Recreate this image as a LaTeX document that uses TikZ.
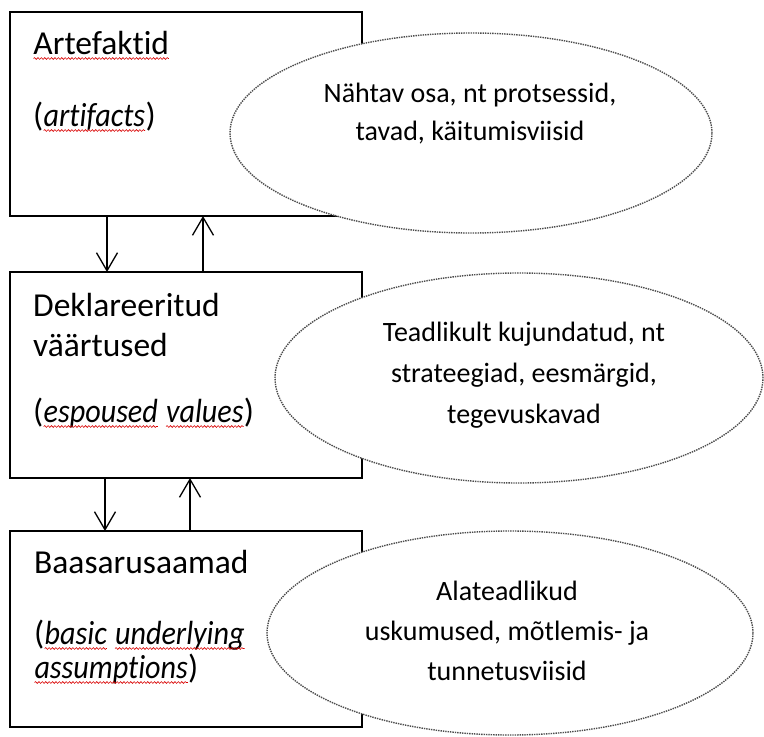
\documentclass[tikz,border=0pt]{standalone}
\usepackage{fontspec}
\setmainfont[Ligatures=NoCommon,ItalicFeatures={FakeStretch=0.9}]{Carlito}
\usetikzlibrary{arrows.meta,shapes.geometric,decorations.pathmorphing}
\newcommand\spellmark[1]{\tikz[baseline=(sw.base)]{\node[shape=rectangle,draw=none,fill=none,inner sep=0pt,outer sep=0pt,anchor=base west] (sw) at (0,0) {#1};\draw[spellline] ([yshift=-4.5pt]sw.base west) -- ([yshift=-4.5pt]sw.base east);}}
\tikzset{
  spellline/.style={draw=red!85!black, line width=0.6pt, decorate, decoration={snake, amplitude=0.9pt, segment length=3.4pt}},
  boxnode/.style={draw=black, line width=1.3pt, fill=white, inner sep=0pt, outer sep=0pt, shape=rectangle},
  ellnode/.style={ellipse, draw=black!70, fill=white, line width=1.4pt, densely dotted, inner sep=0pt, outer sep=0pt},
  boxtext/.style={anchor=base west, inner sep=0pt, font=\fontsize{33.5}{40}\selectfont},
  elltext/.style={anchor=base, inner sep=0pt, font=\fontsize{28}{40}\selectfont},
  arr/.style={draw=black, line width=1.3pt, -{Straight Barb[length=18pt,width=21pt,line width=1.3pt]}},
}
\begin{document}
\begin{tikzpicture}[x=1pt,y=-1pt]
\useasboundingbox (0,0) rectangle (764,737);
\fill[white] (0,0) rectangle (764,737);

% boxes
\node[boxnode, minimum width=352pt, minimum height=204pt] (box1) at (186,114) {};
\node[boxnode, minimum width=352pt, minimum height=206pt] (box2) at (186,375) {};
\node[boxnode, minimum width=352pt, minimum height=196pt] (box3) at (186,629) {};

% arrows
\draw[arr] ([xshift=97pt]box1.south west) -- ([xshift=97pt]box2.north west);
\draw[arr] ([xshift=193pt]box2.north west) -- ([xshift=193pt]box1.south west);
\draw[arr] ([xshift=95pt]box2.south west) -- ([xshift=95pt]box3.north west);
\draw[arr] ([xshift=180pt]box3.north west) -- ([xshift=180pt]box2.south west);

% box texts
\node[boxtext] (b1a) at (33,54) {\spellmark{Artefaktid}};
\node[boxtext] (b1b) at (33,126) {(\spellmark{\itshape artifacts})};
\node[boxtext] (b2a) at (33,316) {Deklareeritud};
\node[boxtext] (b2b) at (33,356) {väärtused};
\node[boxtext] (b2c) at (33,422) {(\spellmark{\itshape espoused} \spellmark{\itshape values})};
\node[boxtext] (b3a) at (34,573) {Baasarusaamad};
\node[boxtext] (b3b) at (34,644) {(\spellmark{\itshape basic} \spellmark{\itshape underlying}};
\node[boxtext] (b3c) at (34,678) {\spellmark{\itshape assumptions})};

% ellipses
\node[ellnode, minimum width=482pt, minimum height=200pt] (e1) at (471,133) {};
\node[ellnode, minimum width=488pt, minimum height=210pt] (e2) at (519,378) {};
\node[ellnode, minimum width=486pt, minimum height=204pt] (e3) at (510,633) {};

% ellipse texts
\node[elltext] (e1a) at (470,102) {Nähtav osa, nt protsessid,};
\node[elltext] (e1b) at (470,140) {tavad, käitumisviisid};
\node[elltext] (e2a) at (524,341) {Teadlikult kujundatud, nt};
\node[elltext] (e2b) at (524,382) {strateegiad, eesmärgid,};
\node[elltext] (e2c) at (524,423) {tegevuskavad};
\node[elltext] (e3a) at (507,600) {Alateadlikud};
\node[elltext] (e3b) at (507,640) {uskumused, mõtlemis- ja};
\node[elltext] (e3c) at (507,680) {tunnetusviisid};
\end{tikzpicture}
\end{document}
